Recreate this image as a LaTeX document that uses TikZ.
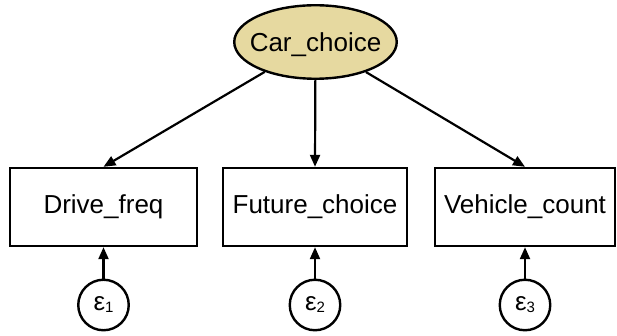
\documentclass[tikz,border=0pt]{standalone}
\usepackage{fontspec}
\setmainfont{Liberation Sans}
\usetikzlibrary{arrows.meta,shapes.geometric}
\definecolor{latentfill}{RGB}{230,217,160}
% text that takes no room, so the shape keeps its own size
\newcommand{\fixedtext}[1]{\smash{\makebox[0pt]{\raisebox{-0.36em}{#1}}}}
\begin{document}
\begin{tikzpicture}[x=1pt,y=-1pt,
  every node/.style={inner sep=0pt, font=\fontsize{26}{30}\selectfont},
  latent/.style={ellipse, draw, line width=2.4pt, fill=latentfill,
    minimum width=162.5pt, minimum height=73.5pt},
  observed/.style={rectangle, draw, line width=2.4pt, minimum height=78pt},
  errnode/.style={circle, draw, line width=2.4pt, minimum size=50.5pt},
  path/.style={line width=2.2pt, -{Triangle[length=12pt,width=10pt]}}
]
\useasboundingbox (0,0) rectangle (617,336);
\node[latent] (car) at (315.5,42) {\fixedtext{Car\_choice}};
\node[observed, minimum width=186.5pt] (drive) at (103.5,207) {Drive\_freq};
\node[observed, minimum width=183.5pt] (future) at (315,207) {Future\_choice};
\node[observed, minimum width=179.5pt] (vehicle) at (525,207) {Vehicle\_count};
\newcommand{\epslabel}[1]{ε\raisebox{-2pt}{\fontsize{15}{15}\selectfont #1}}
\node[errnode] (e1) at (103.5,305) {\epslabel{1}};
\node[errnode] (e2) at (315,305) {\epslabel{2}};
\node[errnode] (e3) at (525,305) {\epslabel{3}};
\draw[path] (car) -- (drive.north);
\draw[path] (car) -- (future.north);
\draw[path] (car) -- (vehicle.north);
\draw[path] (e1) -- (drive);
\draw[path] (e2) -- (future);
\draw[path] (e3) -- (vehicle);
\end{tikzpicture}
\end{document}
